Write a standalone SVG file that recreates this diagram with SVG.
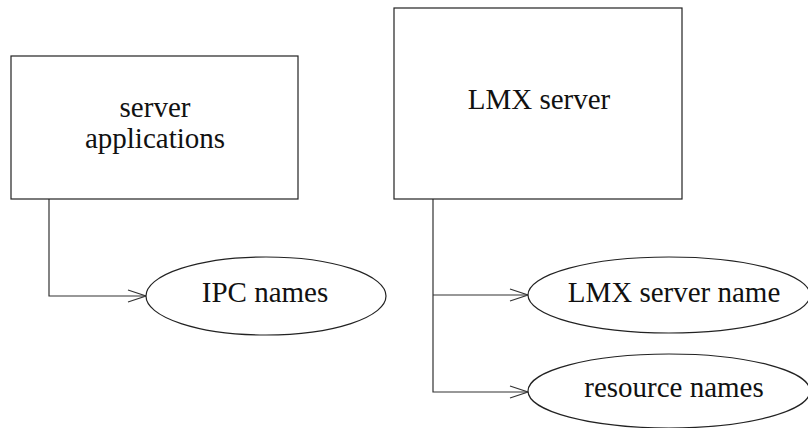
<svg xmlns="http://www.w3.org/2000/svg" width="808" height="428" viewBox="0 0 808 428">
<defs>
<style>
.box{fill:#fff;stroke:#222;stroke-width:1.2}
.ell{fill:#fff;stroke:#222;stroke-width:1.2}
.lbl{font-family:"Liberation Serif","Times New Roman",serif;font-size:29px;fill:#111;text-anchor:middle}
.con{fill:none;stroke:#333;stroke-width:1.2}
</style>
<marker id="arr" markerUnits="userSpaceOnUse" markerWidth="20" markerHeight="14" refX="18" refY="6" orient="auto" overflow="visible">
<path d="M0,0 L18,6 L0,12" fill="none" stroke="#333" stroke-width="1.2"/>
</marker>
</defs>
<rect width="808" height="428" fill="#fff"/>
<g id="connectors">
<polyline class="con" points="49,199 49,296 146,296" marker-end="url(#arr)"/>
<polyline class="con" points="433,199 433,392 528,392" marker-end="url(#arr)"/>
<line class="con" x1="433" y1="295" x2="528" y2="295" marker-end="url(#arr)"/>
</g>
<g id="server-applications">
<rect class="box" x="11" y="56" width="287" height="143"/>
<text class="lbl" x="155" y="117">server</text>
<text class="lbl" x="155" y="148">applications</text>
</g>
<g id="lmx-server">
<rect class="box" x="394" y="8" width="288" height="191"/>
<text class="lbl" x="539" y="109">LMX server</text>
</g>
<g id="ipc-names">
<ellipse class="ell" cx="266" cy="296" rx="120" ry="39"/>
<text class="lbl" x="265" y="302">IPC names</text>
</g>
<g id="lmx-server-name">
<ellipse class="ell" cx="669" cy="295" rx="141" ry="38"/>
<text class="lbl" x="674" y="302">LMX server name</text>
</g>
<g id="resource-names">
<ellipse class="ell" cx="669" cy="391" rx="141" ry="37"/>
<text class="lbl" x="674" y="397">resource names</text>
</g>
</svg>
